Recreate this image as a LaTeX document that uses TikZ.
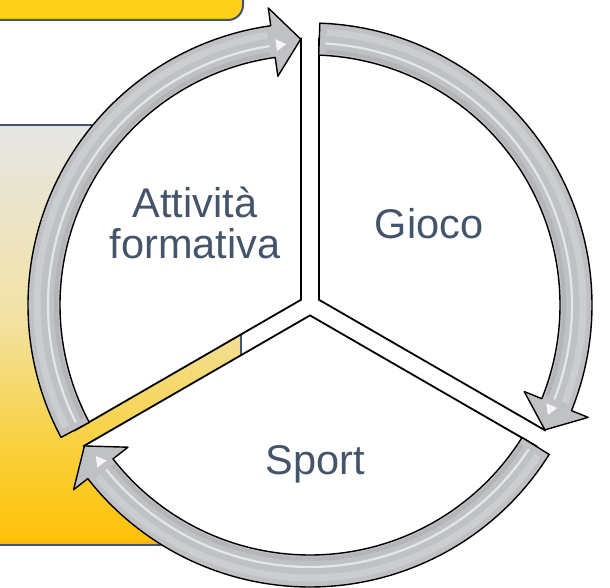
\documentclass[tikz,border=0pt]{standalone}
\usepackage{fontspec}
\setmainfont{Liberation Sans}
\usetikzlibrary{calc}
\definecolor{slate}{HTML}{44546A}
\definecolor{gold}{HTML}{FFD11A}
\definecolor{ringgray}{HTML}{BFC1C5}
\definecolor{orstrip}{HTML}{FFAC00}
\definecolor{yelA}{HTML}{FFC20A}
\definecolor{yelB}{HTML}{F9CF38}
\definecolor{yelC}{HTML}{F2E2A4}
\definecolor{topgray}{HTML}{E6E6E6}
\pgfdeclareverticalshading{panelshade}{100bp}{color(0bp)=(orstrip); color(25bp)=(orstrip); color(25.8bp)=(yelA); color(36bp)=(yelB); color(52bp)=(yelC); color(75bp)=(topgray); color(100bp)=(topgray)}
\begin{document}
\begin{tikzpicture}[x=1pt,y=1pt,
  ringarrow/.style={draw=black, line width=1.4pt, fill=ringgray, line join=round},
  sectorbox/.style={draw=black, line width=1.8pt, fill=white, line join=miter},
  lbl/.style={text=slate, font=\fontsize{41.5}{41}\selectfont, inner sep=0pt, align=center}]
\useasboundingbox (0,0) rectangle (610,588);
% background panel
\shade[shading=panelshade] (-5,43) rectangle (241,463);
\draw[slate, line width=2pt] (-5,43) rectangle (241,463);
% top box
\draw[fill=gold, draw=slate, line width=2pt, rounded corners=15pt] (-30,568) rectangle (243,630);
\begin{scope}[shift={(310,283)}]
  % sectors
  \foreach \b in {30,150,270} {
    \pgfmathsetmacro\sa{\b-60}
    \pgfmathsetmacro\ea{\b+60}
    \begin{scope}[shift={(\b:10.4pt)}]
      \draw[sectorbox] (0,0) -- (\sa:261pt) arc[start angle=\sa, end angle=\ea, radius=261pt] -- cycle;
    \end{scope}
  }
  % ring arrows
  \foreach \a/\t in {208/92, 88/-28, -32/-148} {
    \pgfmathsetmacro\bk{\t+6}
    \pgfmathsetmacro\hs{\a-1.5}
    \pgfmathsetmacro\he{\bk+1}
    \pgfmathsetmacro\hl{\t+3.2}
    \draw[ringarrow] (\a:282pt) arc[start angle=\a, end angle=\bk, radius=282pt]
      -- (\bk:300pt) -- (\t:266pt) -- (\bk:231pt) -- (\bk:250pt)
      arc[start angle=\bk, end angle=\a, radius=250pt] -- cycle;
    \draw[black, opacity=.06, line width=4pt] (\hs:254pt) arc[start angle=\hs, end angle=\he, radius=254pt];
    \draw[white, opacity=.6, line width=2.2pt, line cap=round] (\hs:262pt) arc[start angle=\hs, end angle=\he, radius=262pt];
    \draw[white, opacity=.2, line width=7pt] (\hs:273pt) arc[start angle=\hs, end angle=\he, radius=273pt];
    \fill[white, opacity=.85] (\hl:262pt) -- (\hl+2.2:268pt) -- (\hl+2.2:256pt) -- cycle;
  }
\end{scope}
% labels
\node[lbl] (act) at (195,365) {Attività\\formativa};
\node[lbl, anchor=base] (gio) at (429,349) {Gioco};
\node[lbl, anchor=base] (spo) at (315.5,113) {Sport};
\end{tikzpicture}
\end{document}
